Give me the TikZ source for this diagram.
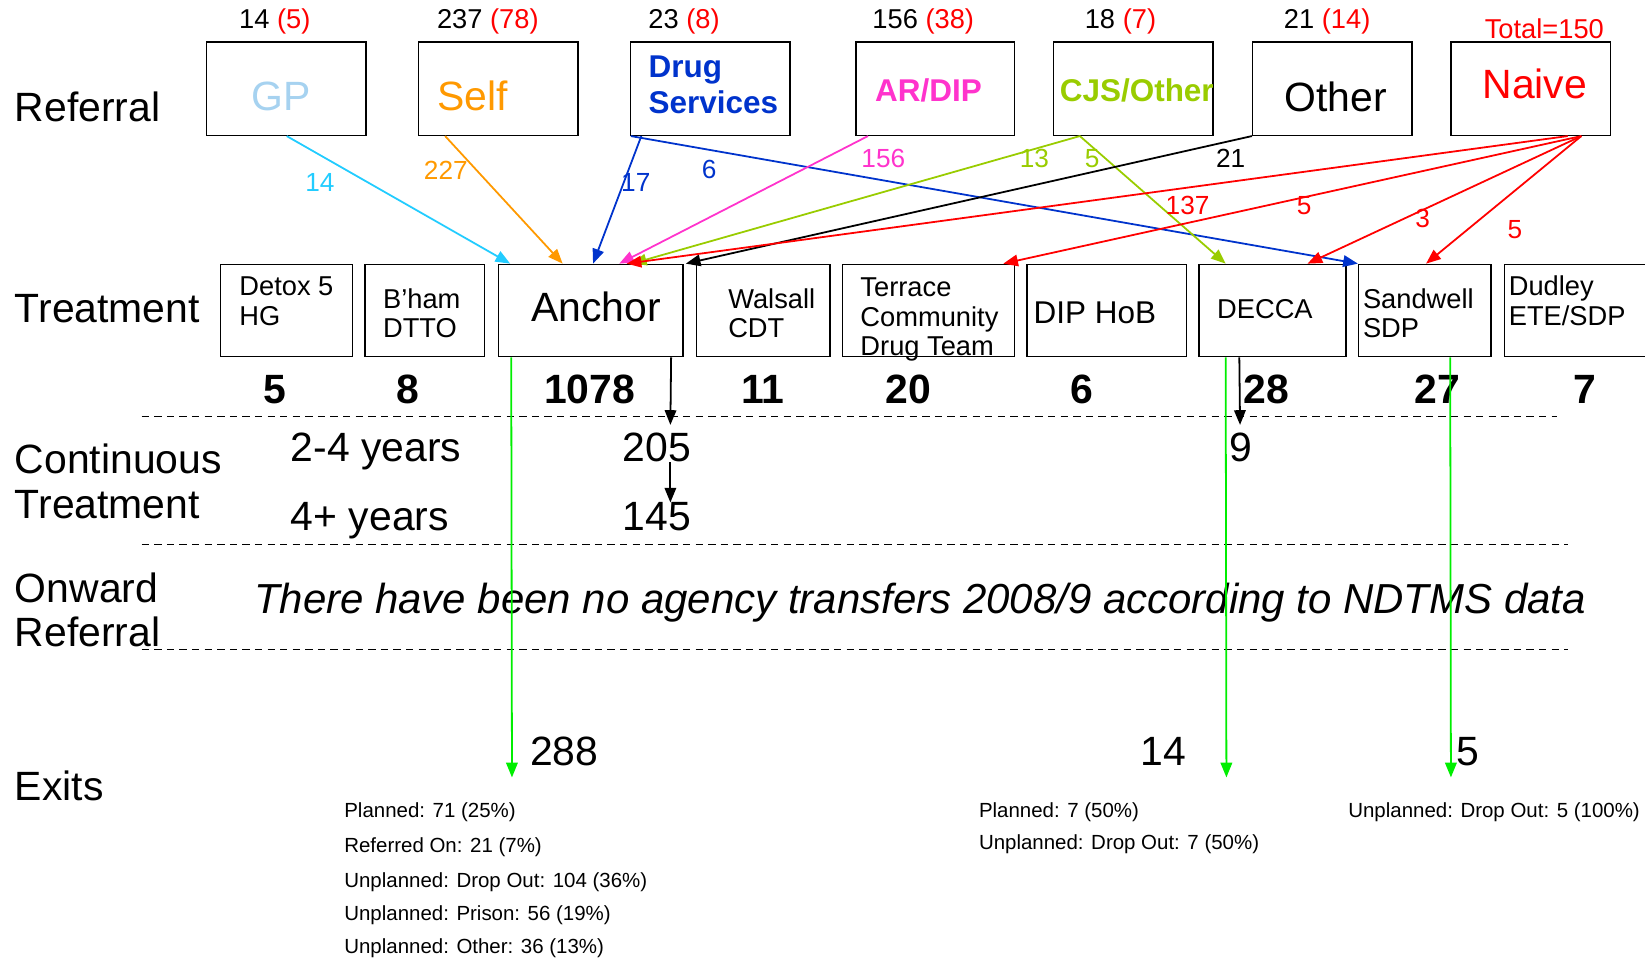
\documentclass[tikz,border=0pt]{standalone}
\usepackage{fontspec}
\setmainfont{Liberation Sans}
\usetikzlibrary{arrows.meta,calc}
\definecolor{gpblue}{HTML}{A6D2F0}
\definecolor{cyanl}{HTML}{22CCFF}
\definecolor{orng}{HTML}{FF9900}
\definecolor{dsblue}{HTML}{0033CC}
\definecolor{magn}{HTML}{FF33CC}
\definecolor{ygreen}{HTML}{99CC00}
\definecolor{brgreen}{HTML}{00EE00}
\tikzset{
  big/.style={inner sep=0pt, font=\fontsize{39}{44}\selectfont},
  lab/.style={big, anchor=base west},
  bigb/.style={inner sep=0pt, anchor=base, font=\fontsize{39}{44}\selectfont\bfseries},
  bld/.style={inner sep=0pt, anchor=base west, font=\fontsize{30}{34}\selectfont\bfseries},
  num/.style={inner sep=0pt, anchor=base, font=\fontsize{26}{30}\selectfont},
  mid/.style={inner sep=0pt, anchor=base west, font=\fontsize{26}{30}\selectfont},
  cl/.style={inner sep=0pt, font=\fontsize{25}{28}\selectfont},
  small/.style={inner sep=0pt, anchor=base west, font=\fontsize{19.5}{23}\selectfont},
  rbox/.style={draw, line width=1.4pt, minimum height=89pt, inner sep=0pt},
  tbox/.style={draw, line width=1.4pt, minimum height=88pt, inner sep=0pt},
  arr/.style={line width=1.7pt, -{Triangle[length=14pt,width=11pt]}},
  dline/.style={line width=1.1pt, dash pattern=on 7pt off 5pt},
}
\begin{document}
\begin{tikzpicture}[x=1pt,y=-1pt]
\useasboundingbox (0,0) rectangle (1568,913);
% row labels
\node[lab] (lRef) at (14,116) {Referral};
\node[lab] (lTreat) at (14,307) {Treatment};
\node[lab] (lCont1) at (14,451) {Continuous};
\node[lab] (lCont2) at (14,494) {Treatment};
\node[lab] (lOnw1) at (14,574) {Onward};
\node[lab] (lOnw2) at (14,616) {Referral};
\node[lab] (lExit) at (14,763) {Exits};
% numbers above referral boxes
\node[num] (tGP) at (262,27) {14 \textcolor{red}{(5)}};
\node[num] (tSelf) at (465,27) {237 \textcolor{red}{(78)}};
\node[num] (tDrug) at (652,27) {23 \textcolor{red}{(8)}};
\node[num] (tAR) at (880,27) {156 \textcolor{red}{(38)}};
\node[num] (tCJS) at (1068,27) {18 \textcolor{red}{(7)}};
\node[num] (tOther) at (1265,27) {21 \textcolor{red}{(14)}};
\node[num, text=red] (tNaive) at (1472,37) {Total=150};
% referral boxes
\node[rbox, minimum width=152pt] (gp) at (273,84.5) {};
\node[rbox, minimum width=152pt] (self) at (475,84.5) {};
\node[rbox, minimum width=152pt] (drug) at (677,84.5) {};
\node[rbox, minimum width=151pt] (ardip) at (891.5,84.5) {};
\node[rbox, minimum width=152pt] (cjs) at (1080,84.5) {};
\node[rbox, minimum width=152pt] (other) at (1270,84.5) {};
\node[rbox, minimum width=152pt] (naive) at (1459,84.5) {};
\node[big, anchor=base, text=gpblue] (gpT) at (268,105) {GP};
\node[lab, text=orng] (selfT) at (417,105) {Self};
\node[bld, text=dsblue] (drugT1) at (618,74) {Drug};
\node[bld, text=dsblue] (drugT2) at (618,108) {Services};
\node[bld, text=magn] (ardipT) at (834,97) {AR/DIP};
\node[bld, text=ygreen] (cjsT) at (1010,97) {CJS/Other};
\node[lab] (otherT) at (1224,106) {Other};
\node[lab, text=red] (naiveT) at (1413,94) {Naive};
% treatment boxes
\node[tbox, minimum width=126pt] (detox) at (273,296) {};
\node[tbox, minimum width=114pt] (bham) at (405,296) {};
\node[tbox, minimum width=176pt] (anchor) at (563,296) {};
\node[tbox, minimum width=127pt] (walsall) at (727.5,296) {};
\node[tbox, minimum width=164pt] (terrace) at (885,296) {};
\node[tbox, minimum width=152pt] (diphob) at (1055,296) {};
\node[tbox, minimum width=140pt] (decca) at (1213,296) {};
\node[tbox, minimum width=126pt] (sandwell) at (1358,296) {};
\node[tbox, minimum width=150pt] (dudley) at (1509,296) {};
\node[mid] (detoxA) at (228,282) {Detox 5};
\node[mid] (detoxB) at (228,310) {HG};
\node[mid] (bhamA) at (365,294) {B’ham};
\node[mid] (bhamB) at (365,322) {DTTO};
\node[big, anchor=base] (anchorT) at (568,306) {Anchor};
\node[mid] (walsallA) at (694,294) {Walsall};
\node[mid] (walsallB) at (694,322) {CDT};
\node[mid] (terraceA) at (820,283) {Terrace};
\node[mid] (terraceB) at (820,311) {Community};
\node[mid] (terraceC) at (820,339) {Drug Team};
\node[inner sep=0pt, anchor=base west, font=\fontsize{30}{34}\selectfont] (diphobT) at (985,308) {DIP HoB};
\node[mid] (deccaT) at (1160,304) {DECCA};
\node[mid] (sandwellA) at (1299,294) {Sandwell};
\node[mid] (sandwellB) at (1299,322) {SDP};
\node[mid] (dudleyA) at (1438,282) {Dudley};
\node[mid] (dudleyB) at (1438,310) {ETE/SDP};
% counts
\node[bigb] (c1) at (262,385) {5};
\node[bigb] (c2) at (389,385) {8};
\node[bigb] (c3) at (562,385) {1078};
\node[bigb] (c4) at (727,385) {11};
\node[bigb] (c5) at (866,385) {20};
\node[bigb] (c6) at (1031,385) {6};
\node[bigb] (c7) at (1207,385) {28};
\node[bigb] (c8) at (1370,385) {27};
\node[bigb] (c9) at (1511,385) {7};
% dashed separators
\coordinate (d1a) at (135,397); \coordinate (d1b) at (1484,397);
\coordinate (d2a) at (135,519); \coordinate (d2b) at (1495,519);
\coordinate (d3a) at (135,619); \coordinate (d3b) at (1495,619);
\draw[dline] (d1a) -- (d1b);
\draw[dline] (d2a) -- (d2b);
\draw[dline] (d3a) -- (d3b);
% continuous treatment
\node[lab] (y24) at (277,440) {2-4 years};
\node[lab] (y4p) at (277,506) {4+ years};
\node[big, anchor=base] (n205) at (626,440) {205};
\node[big, anchor=base] (n145) at (626,506) {145};
\node[big, anchor=base] (n9) at (1183,440) {9};
% onward referral
\node[inner sep=0pt, anchor=base west, font=\fontsize{40}{44}\selectfont\itshape] (onw) at (242,585) {There have been no agency transfers 2008/9 according to NDTMS data};
% exits
\node[lab] (e288) at (505,730) {288};
\node[lab] (e14) at (1087,730) {14};
\node[lab] (e5) at (1388,730) {5};
\node[small] (x1) at (328,779) {Planned: 71 (25\%)};
\node[small] (x2) at (328,813) {Referred On: 21 (7\%)};
\node[small] (x3) at (328,846) {Unplanned: Drop Out: 104 (36\%)};
\node[small] (x4) at (328,877) {Unplanned: Prison: 56 (19\%)};
\node[small] (x5) at (328,909) {Unplanned: Other: 36 (13\%)};
\node[small] (x6) at (933,779) {Planned: 7 (50\%)};
\node[small] (x7) at (933,810) {Unplanned: Drop Out: 7 (50\%)};
\node[small] (x8) at (1285,779) {Unplanned: Drop Out: 5 (100\%)};
% referral connectors
\draw[arr, cyanl] ([xshift=77pt]gp.south west) -- ([xshift=12pt]anchor.north west);
\draw[arr, orng] ([xshift=26pt]self.south west) -- ([xshift=62pt]anchor.north west);
\draw[arr, dsblue] ([xshift=11pt]drug.south west) -- ([xshift=91pt]anchor.north west);
\draw[arr, dsblue] ([xshift=1pt]drug.south west) -- (sandwell.north west);
\draw[arr, magn] ([xshift=12pt]ardip.south west) -- ([xshift=116pt]anchor.north west);
\draw[arr, ygreen] ([xshift=26pt]cjs.south west) -- ([xshift=128pt]anchor.north west);
\draw[arr, ygreen] ([xshift=26pt]cjs.south west) -- ([xshift=26pt]decca.north west);
\draw[arr, black] (other.south west) -- ([xshift=2pt]anchor.north east);
\draw[arr, red] ([xshift=112pt]naive.south west) -- ([xshift=123pt]anchor.north west);
\draw[arr, red] ([xshift=125pt]naive.south west) -- ([xshift=154pt]terrace.north west);
\draw[arr, red] ([xshift=125pt]naive.south west) -- ([xshift=104pt]decca.north west);
\draw[arr, red] ([xshift=125pt]naive.south west) -- ([xshift=65pt]sandwell.north west);
% connector labels
\node[cl, text=cyanl] (l14) at (305,174) {14};
\node[cl, text=orng] (l227) at (425,162) {227};
\node[cl, text=dsblue] (l17) at (606,174) {17};
\node[cl, text=dsblue] (l6) at (676,162) {6};
\node[cl, text=magn] (l156) at (842,151) {156};
\node[cl, text=ygreen] (l13) at (986,151) {13};
\node[cl, text=ygreen] (l5g) at (1041,151) {5};
\node[cl] (l21) at (1173,151) {21};
\node[cl, text=red] (l137) at (1132,196) {137};
\node[cl, text=red] (l5a) at (1243,196) {5};
\node[cl, text=red] (l3) at (1356,208) {3};
\node[cl, text=red] (l5b) at (1444,219) {5};
% continuous treatment arrows
\coordinate (t205) at (639,405);
\coordinate (t9) at (1182,405);
\draw[arr] ([xshift=-12pt]anchor.south east) -- (t205);
\draw[arr] ([xshift=13pt]n205.south) -- ([xshift=13pt]n145.north);
\draw[arr] ([xshift=39pt]decca.south west) -- (t9);
% exit arrows
\coordinate (g1) at (488,741);
\coordinate (g2) at (1169,741);
\coordinate (g3) at (1383,741);
\draw[arr, brgreen] ([xshift=13pt]anchor.south west) -- (g1);
\draw[arr, brgreen] ([xshift=26pt]decca.south west) -- (g2);
\draw[arr, brgreen] ([xshift=88pt]sandwell.south west) -- (g3);
\end{tikzpicture}
\end{document}
